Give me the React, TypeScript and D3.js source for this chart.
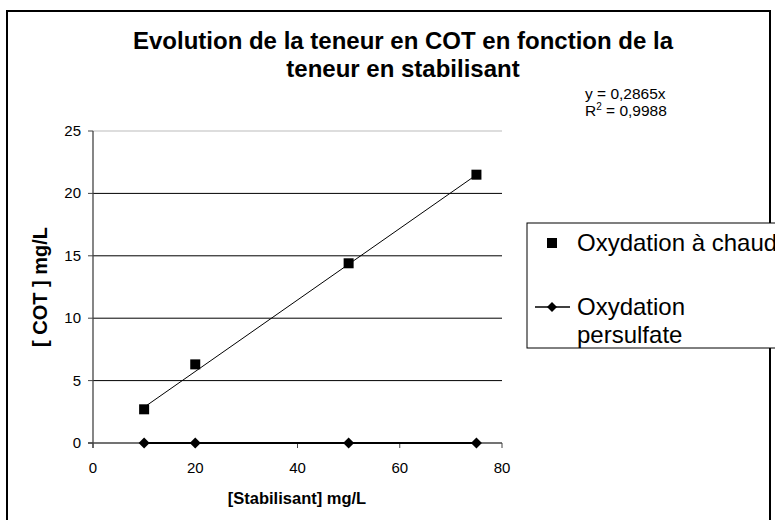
import React from "react";
import * as d3 from "d3";

const xValues = [10, 20, 50, 75];
const chaud = [2.7, 6.3, 14.4, 21.5];
const persulfate = [0, 0, 0, 0];
const yTicks = [0, 5, 10, 15, 20, 25];
const xTicks = [0, 20, 40, 60, 80];
const slope = 0.2865;
const titleLines = ["Evolution de la teneur en COT en fonction de la", "teneur en stabilisant"];
const eqLines = ["y = 0,2865x", "0,9988"];
const legendLabels = ["Oxydation à chaud", "Oxydation", "persulfate"];

const FONT = "'Liberation Sans', Arial, sans-serif";

export default function App() {
  const x = d3.scaleLinear().domain([0, 80]).range([93, 502]);
  const y = d3.scaleLinear().domain([0, 25]).range([443, 131]);
  const trend = d3.line<number>().x((d) => x(d)).y((d) => y(slope * d));
  const diamondLine = d3.line<number>().x((d, i) => x(xValues[i])).y((d) => y(d));
  const diamond = (cx: number, cy: number, r: number) =>
    `M${cx},${cy - r}L${cx + r},${cy}L${cx},${cy + r}L${cx - r},${cy}Z`;

  return (
    <svg width={775} height={520} style={{ position: "absolute", left: 0, top: 0 }} fontFamily={FONT}>
      <rect x={0} y={0} width={775} height={520} fill="#fff" />
      <rect x={7} y={11} width={763} height={520} fill="none" stroke="#000" strokeWidth={2} />
      {titleLines.map((t, i) => (
        <text key={i} x={403} y={49 + i * 28} textAnchor="middle" fontSize={24} fontWeight="bold">
          {t}
        </text>
      ))}
      {/* gridlines */}
      {yTicks.filter((t) => t > 0).map((t) => (
        <line key={t} x1={x(0)} x2={x(80)} y1={y(t)} y2={y(t)} stroke={t === 25 ? "#bbb" : "#000"} strokeWidth={1} />
      ))}
      {/* y axis */}
      <line x1={x(0)} x2={x(0)} y1={y(25)} y2={y(0) + 5} stroke="#444" strokeWidth={1.3} />
      {yTicks.map((t) => (
        <g key={t}>
          <line x1={x(0) - 5} x2={x(0)} y1={y(t)} y2={y(t)} stroke="#444" />
          <text x={x(0) - 12} y={y(t) + 5} textAnchor="end" fontSize={15}>{t}</text>
        </g>
      ))}
      {/* x axis */}
      <line x1={x(0) - 5} x2={x(80)} y1={y(0)} y2={y(0)} stroke="#444" strokeWidth={1.3} />
      {xTicks.map((t) => (
        <g key={t}>
          <line x1={x(t)} x2={x(t)} y1={y(0)} y2={y(0) + 5} stroke="#444" />
          <text x={x(t)} y={y(0) + 30} textAnchor="middle" fontSize={15}>{t}</text>
        </g>
      ))}
      <text x={297} y={504} textAnchor="middle" fontSize={16.5} fontWeight="bold">[Stabilisant] mg/L</text>
      <text transform={`translate(47,287) rotate(-90)`} textAnchor="middle" fontSize={20} fontWeight="bold">[ COT ] mg/L</text>
      {/* persulfate series */}
      <path d={diamondLine(persulfate) || ""} fill="none" stroke="#000" strokeWidth={2} />
      {persulfate.map((v, i) => (
        <path key={i} d={diamond(x(xValues[i]), y(v), 5.5)} fill="#000" />
      ))}
      {/* trendline */}
      <path d={trend([xValues[0], xValues[xValues.length - 1]]) || ""} fill="none" stroke="#000" strokeWidth={1} />
      {/* chaud series */}
      {chaud.map((v, i) => (
        <rect key={i} x={x(xValues[i]) - 5} y={y(v) - 5} width={10} height={10} fill="#000" />
      ))}
      {/* equation */}
      <text x={585} y={99} fontSize={15.5}>{eqLines[0]}</text>
      <text x={585} y={116} fontSize={15.5}>
        R<tspan dy={-6} fontSize={10}>2</tspan><tspan dy={6}> = {eqLines[1]}</tspan>
      </text>
      {/* legend */}
      <rect x={527} y={223} width={300} height={125} fill="#fff" stroke="#000" strokeWidth={1} />
      <rect x={547} y={238} width={10} height={10} fill="#000" />
      <text x={577} y={251} fontSize={24}>{legendLabels[0]}</text>
      <line x1={535} x2={570} y1={307} y2={307} stroke="#000" strokeWidth={1.5} />
      <path d={diamond(552, 307, 5)} fill="#000" />
      <text x={577} y={315} fontSize={24}>{legendLabels[1]}</text>
      <text x={577} y={343} fontSize={24}>{legendLabels[2]}</text>
    </svg>
  );
}
